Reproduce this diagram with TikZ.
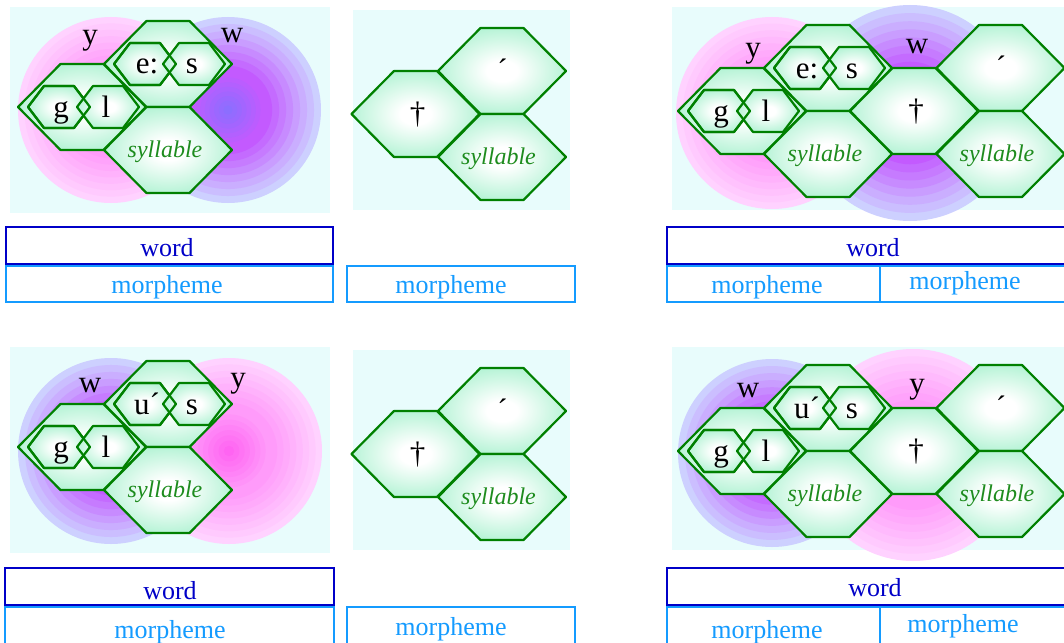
\documentclass[tikz,border=0pt]{standalone}
\usepackage{fontspec}
\setmainfont{Liberation Serif}

\definecolor{panelbg}{RGB}{232,252,252}
\definecolor{pinkcore}{RGB}{255,100,242}
\definecolor{pinkmid}{RGB}{255,155,250}
\definecolor{pinkrim}{RGB}{255,210,255}
\definecolor{violetcore}{RGB}{140,110,255}
\definecolor{violetmid}{RGB}{195,90,255}
\definecolor{violetrim}{RGB}{205,208,255}
\definecolor{mint}{RGB}{150,238,196}
\definecolor{hexline}{RGB}{0,128,0}
\definecolor{sylgreen}{RGB}{30,140,30}
\definecolor{wordblue}{RGB}{0,0,200}
\definecolor{morphblue}{RGB}{20,155,255}

\pgfdeclareradialshading{hexglow}{\pgfpoint{0bp}{0bp}}{color(0bp)=(white); color(6bp)=(white); color(34bp)=(mint); color(72bp)=(mint)}

\tikzset{
  panel/.style={fill=panelbg},
  hexcell/.style={shade,shading=hexglow,draw=hexline,line width=2.2pt,line join=round},
  hexrim/.style={draw=hexline,line width=2.2pt,line join=round},
  pics/bighex/.style={code={\path[hexcell] (-64,0)--(-21.5,-43)--(21.5,-43)--(64,0)--(21.5,43)--(-21.5,43)--cycle;}},
  pics/smallhex/.style={code={\path[hexcell] (-31,0)--(-15,-21)--(15,-21)--(31,0)--(15,21)--(-15,21)--cycle;}},
  pics/smallrim/.style={code={\path[hexrim] (-31,0)--(-15,-21)--(15,-21)--(31,0)--(15,21)--(-15,21)--cycle;}},
  glyph/.style={anchor=base,inner sep=0pt,font=\fontsize{31}{33}\selectfont},
  sylltext/.style={anchor=base,inner sep=0pt,text=sylgreen,font=\fontsize{24}{26}\selectfont\itshape},
  wordbox/.style={draw=wordblue,line width=2pt},
  morphbox/.style={draw=morphblue,line width=2pt},
  wordtext/.style={anchor=base,inner sep=0pt,text=wordblue,font=\fontsize{26}{28}\selectfont},
  morphtext/.style={anchor=base,inner sep=0pt,text=morphblue,font=\fontsize{26}{28}\selectfont}
}

% banded disc: centre, outer and inner radius, rim and core colours
\newcommand\ball[5]{%
  \foreach \k in {0,...,7}{%
    \pgfmathtruncatemacro\mix{100-\k*100/7}
    \fill[#4!\mix!#5] #1 circle ({#2-\k*(#2-#3)/8});
  }}
\newcommand\pinkball[2]{%
  \ball{#1}{#2}{#2*0.45}{pinkrim}{pinkmid}
  \ball{#1}{#2*0.45}{0}{pinkmid}{pinkcore}}
\newcommand\violetball[2]{%
  \ball{#1}{#2}{#2*0.4}{violetrim}{violetmid}
  \ball{#1}{#2*0.4}{0}{violetmid}{violetcore}}

% two small cells inside one big cell
\newcommand\twinhex[4]{%
  \begin{scope}[shift={#1}]
    \pic at (-23,0) {smallhex};
    \pic at (26,0) {smallhex};
    \pic at (-23,0) {smallrim};
    \node[glyph] (#4-a) at (-21,10) {#2};
    \node[glyph] (#4-b) at (24,10) {#3};
  \end{scope}}

% onset cell, rhyme cell and syllable cell
\newcommand\rootcells[4]{%
  \begin{scope}[shift={#1}]
    \pic at (0,0) {bighex};
    \pic at (86,-43) {bighex};
    \pic at (86,43) {bighex};
    \node[sylltext] (#4-syl) at (83,50) {syllable};
  \end{scope}
  \twinhex{#1}{g}{l}{#4gl}
  \begin{scope}[shift={#1}]
    \twinhex{(86,-43)}{#2}{#3}{#4rh}
  \end{scope}}

% dagger cell, accent cell and syllable cell
\newcommand\stemcells[2]{%
  \begin{scope}[shift={#1}]
    \pic at (0,0) {bighex};
    \pic at (86.5,-43) {bighex};
    \pic at (86.5,43) {bighex};
    \node[glyph] (#2-dag) at (2,9) {†};
    \node[glyph] (#2-acc) at (87,-34) {´};
    \node[sylltext] (#2-syl) at (83,50) {syllable};
  \end{scope}}

\begin{document}
\begin{tikzpicture}[x=1pt,y=-1pt]
  \path[use as bounding box,clip] (0,0) rectangle (1064,642);
  \fill[white] (0,0) rectangle (1064,642);

  % top row
  \fill[panel] (10,7) rectangle (330,213);
  \fill[panel] (353,10) rectangle (570,210);
  \fill[panel] (672,7) rectangle (1064,210);
  \pinkball{(111,110)}{93}
  \violetball{(228,110)}{93}
  \pinkball{(772,113)}{96}
  \violetball{(910,113)}{108}

  \rootcells{(82,107)}{e:}{s}{tl}
  \node[glyph] (tl-y) at (90,45) {y};
  \node[glyph] (tl-w) at (232,43) {w};
  \stemcells{(415.5,114)}{tm}
  \rootcells{(742,111)}{e:}{s}{tr}
  \stemcells{(914,111)}{tr}
  \node[glyph] (tr-y) at (753,57) {y};
  \node[glyph] (tr-w) at (917,53) {w};

  \draw[wordbox] (6,227) rectangle (333,264);
  \draw[morphbox] (6,266) rectangle (333,302);
  \draw[morphbox] (347,266) rectangle (575,302);
  \draw[wordbox] (667,227) rectangle (1070,264);
  \draw[morphbox] (667,266) rectangle (880,302) (880,266) rectangle (1070,302);
  \node[wordtext] (tl-word) at (167,256) {word};
  \node[morphtext] (tl-morph) at (167,293) {morpheme};
  \node[morphtext] (tm-morph) at (451,293) {morpheme};
  \node[wordtext] (tr-word) at (873,256) {word};
  \node[morphtext] (tr-morph1) at (767,293) {morpheme};
  \node[morphtext] (tr-morph2) at (965,289) {morpheme};

  % bottom row
  \fill[panel] (10,347) rectangle (330,553);
  \fill[panel] (353,350) rectangle (570,550);
  \fill[panel] (672,347) rectangle (1064,550);
  \violetball{(111,451)}{93}
  \pinkball{(229,451)}{93}
  \violetball{(772,453)}{94}
  \pinkball{(913,455)}{106}

  \rootcells{(82,447)}{u´}{s}{bl}
  \node[glyph] (bl-w) at (90,392) {w};
  \node[glyph] (bl-y) at (238,387) {y};
  \stemcells{(415.5,454)}{bm}
  \rootcells{(742,451)}{u´}{s}{br}
  \stemcells{(914,451)}{br}
  \node[glyph] (br-w) at (748,397) {w};
  \node[glyph] (br-y) at (917,393) {y};

  \draw[wordbox] (5,568) rectangle (334,605);
  \draw[morphbox] (5,607) rectangle (334,660);
  \draw[morphbox] (347,607) rectangle (575,660);
  \draw[wordbox] (667,568) rectangle (1070,605);
  \draw[morphbox] (667,607) rectangle (880,660) (880,607) rectangle (1070,660);
  \node[wordtext] (bl-word) at (170,599) {word};
  \node[morphtext] (bl-morph) at (170,638) {morpheme};
  \node[morphtext] (bm-morph) at (451,635) {morpheme};
  \node[wordtext] (br-word) at (875,596) {word};
  \node[morphtext] (br-morph1) at (767,638) {morpheme};
  \node[morphtext] (br-morph2) at (963,632) {morpheme};
\end{tikzpicture}
\end{document}
